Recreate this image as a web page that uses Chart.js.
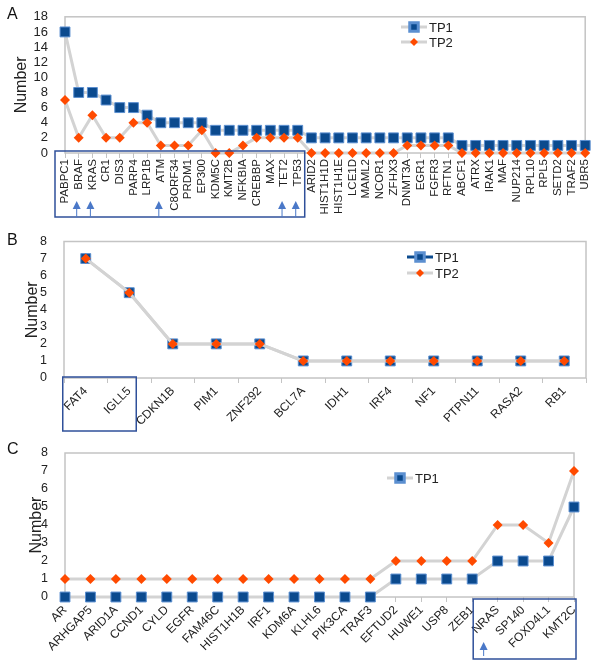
<!DOCTYPE html>
<html lang="en">
<head>
<meta charset="UTF-8">
<title>TP1 / TP2 mutations</title>
<script src="https://cdn.jsdelivr.net/npm/chart.js"></script>
<style>
  body { margin: 0; background: #fff; font-family: "Liberation Sans", Arial, sans-serif; }
  .panel { position: absolute; left: 0; width: 600px; }
  .letter { position: absolute; left: 7px; font-size: 16px; color: #111; }
</style>
</head>
<body>
<div class="panel" style="top:0;height:225px"><canvas id="chartA"></canvas></div>
<div class="panel" style="top:225px;height:210px"><canvas id="chartB"></canvas></div>
<div class="panel" style="top:435px;height:230px"><canvas id="chartC"></canvas></div>
<div class="letter" style="top:5px">A</div>
<div class="letter" style="top:231px">B</div>
<div class="letter" style="top:440px">C</div>
<script>
// panel A
const genesA = ['PABPC1', 'BRAF', 'KRAS', 'CR1', 'DIS3', 'PARP4', 'LRP1B', 'ATM', 'C8ORF34', 'PRDM1',
  'EP300', 'KDM5C', 'KMT2B', 'NFKBIA', 'CREBBP', 'MAX', 'TET2', 'TP53', 'ARID2', 'HIST1H1D',
  'HIST1H1E', 'LCE1D', 'MAML2', 'NCOR1', 'ZFHX3', 'DNMT3A', 'EGR1', 'FGFR3', 'RFTN1', 'ABCF1',
  'ATRX', 'IRAK1', 'MAF', 'NUP214', 'RPL10', 'RPL5', 'SETD2', 'TRAF2', 'UBR5'];
const tp1A = [16, 8, 8, 7, 6, 6, 5, 4, 4, 4, 4, 3, 3, 3, 3, 3, 3, 3, 2, 2,
  2, 2, 2, 2, 2, 2, 2, 2, 2, 1, 1, 1, 1, 1, 1, 1, 1, 1, 1];
const tp2A = [7, 2, 5, 2, 2, 4, 4, 1, 1, 1, 3, 0, 0, 1, 2, 2, 2, 2, 0, 0,
  0, 0, 0, 0, 0, 1, 1, 1, 1, 0, 0, 0, 0, 0, 0, 0, 0, 0, 0];

// panel B
const genesB = ['FAT4', 'IGLL5', 'CDKN1B', 'PIM1', 'ZNF292', 'BCL7A', 'IDH1', 'IRF4', 'NF1', 'PTPN11', 'RASA2', 'RB1'];
const tp1B = [7, 5, 2, 2, 2, 1, 1, 1, 1, 1, 1, 1];
const tp2B = [7, 5, 2, 2, 2, 1, 1, 1, 1, 1, 1, 1];

// panel C
const genesC = ['AR', 'ARHGAP5', 'ARID1A', 'CCND1', 'CYLD', 'EGFR', 'FAM46C', 'HIST1H1B', 'IRF1', 'KDM6A',
  'KLHL6', 'PIK3CA', 'TRAF3', 'EFTUD2', 'HUWE1', 'USP8', 'ZEB1', 'NRAS', 'SP140', 'FOXD4L1', 'KMT2C'];
const tp1C = [0, 0, 0, 0, 0, 0, 0, 0, 0, 0, 0, 0, 0, 1, 1, 1, 1, 2, 2, 2, 5];
const tp2C = [1, 1, 1, 1, 1, 1, 1, 1, 1, 1, 1, 1, 1, 2, 2, 2, 2, 4, 4, 3, 7];

const FONT = '"Liberation Sans", Arial, sans-serif';
const BLUE = '#0b4a8e';
const ORANGE = '#ff4a00';
const GREY = '#d3d3d3';
const FRAME = '#c4c4c4';
const BOXBLUE = '#2f509a';
const ARROW = '#4a78c8';

// grey frame round the plot area
const framePlugin = {
  id: 'frame',
  beforeDatasetsDraw(chart) {
    const a = chart.chartArea, ctx = chart.ctx;
    ctx.save();
    ctx.strokeStyle = FRAME;
    ctx.lineWidth = 1.5;
    ctx.strokeRect(a.left, a.top, a.right - a.left, a.bottom - a.top);
    ctx.restore();
  }
};

// legend drawn inside the plot
const innerLegend = {
  id: 'innerLegend',
  afterDraw(chart, args, opts) {
    if (!opts.items) return;
    const ctx = chart.ctx;
    opts.items.forEach(it => {
      const ds = chart.data.datasets[it.ds];
      ctx.save();
      ctx.strokeStyle = it.line || ds.borderColor;
      ctx.lineWidth = 3;
      ctx.beginPath();
      ctx.moveTo(it.x, it.y);
      ctx.lineTo(it.x + 26, it.y);
      ctx.stroke();
      ctx.fillStyle = ds.pointBackgroundColor;
      ctx.strokeStyle = ds.pointBorderColor;
      Chart.helpers.drawPoint(ctx, {
        pointStyle: ds.pointStyle, radius: ds.pointStyle === 'rect' ? 6 : 4,
        rotation: 0, borderWidth: ds.pointBorderWidth
      }, it.x + 13, it.y);
      ctx.fillStyle = '#222';
      ctx.font = '13px ' + FONT;
      ctx.textBaseline = 'middle';
      ctx.fillText(ds.label, it.x + 28, it.y + 1);
      ctx.restore();
    });
  }
};

// blue box round some gene labels, plus arrows
const labelBox = {
  id: 'labelBox',
  afterDraw(chart, args, o) {
    if (o.from === undefined) return;
    const x = chart.scales.x, ctx = chart.ctx;
    const left = x.getPixelForValue(o.from) + o.padL;
    const right = x.getPixelForValue(o.to) + o.padR;
    ctx.save();
    ctx.strokeStyle = BOXBLUE;
    ctx.lineWidth = 1.5;
    ctx.strokeRect(left, o.top, right - left, o.bottom - o.top);
    ctx.fillStyle = ARROW;
    ctx.strokeStyle = ARROW;
    ctx.lineWidth = 1;
    (o.arrows || []).forEach(i => {
      const ax = x.getPixelForValue(i) + (o.arrowDx || 0);
      ctx.beginPath();
      ctx.moveTo(ax, o.tip);
      ctx.lineTo(ax - 4, o.tip + 8);
      ctx.lineTo(ax + 4, o.tip + 8);
      ctx.closePath();
      ctx.fill();
      ctx.beginPath();
      ctx.moveTo(ax, o.tip + 7);
      ctx.lineTo(ax, o.end);
      ctx.stroke();
    });
    ctx.restore();
  }
};

function makeChart(id, labels, d1, d2, c) {
  return new Chart(document.getElementById(id), {
    type: 'line',
    data: {
      labels: labels,
      datasets: [
        {
          label: 'TP1', data: d1, order: 1,
          borderColor: GREY, borderWidth: 3,
          pointStyle: 'rect', pointRadius: 7,
          pointBackgroundColor: BLUE, pointBorderColor: '#5b8fd0', pointBorderWidth: 1,
          clip: false
        },
        {
          label: 'TP2', data: d2, order: 0,
          borderColor: GREY, borderWidth: 3,
          pointStyle: 'rectRot', pointRadius: 5,
          pointBackgroundColor: ORANGE, pointBorderColor: ORANGE, pointBorderWidth: 0,
          clip: false
        }
      ]
    },
    options: {
      responsive: true,
      maintainAspectRatio: false,
      animation: false,
      layout: { padding: { left: 0, top: c.top, right: c.right, bottom: 0 } },
      plugins: {
        legend: { display: false },
        tooltip: { enabled: false },
        innerLegend: { items: c.legend },
        labelBox: c.box
      },
      scales: {
        x: {
          offset: c.offset,
          grid: { display: true, drawOnChartArea: false, drawTicks: true, tickLength: 5, color: FRAME, offset: c.offset },
          border: { display: false },
          ticks: {
            autoSkip: false, minRotation: c.rot, maxRotation: c.rot, padding: 1,
            color: '#222', font: { family: FONT, size: c.xFont }
          },
          afterFit: s => { s.height = c.xHeight; }
        },
        y: {
          min: 0, max: c.max,
          grid: { display: false },
          border: { display: false },
          ticks: { stepSize: c.step, autoSkip: false, padding: 9, color: '#222', font: { family: FONT, size: c.yFont } },
          title: {
            display: true, text: 'Number', color: '#222',
            font: { family: FONT, size: 16 }, padding: { top: c.titlePad, bottom: 0 }
          },
          afterFit: s => { s.width = c.yWidth; }
        }
      }
    },
    plugins: [framePlugin, innerLegend, labelBox]
  });
}

makeChart('chartA', genesA, tp1A, tp2A, {
  top: 11, right: 11, xHeight: 72, yWidth: 65, max: 18, step: 2, offset: false,
  rot: 90, xFont: 11.5, yFont: 13, titlePad: 12,
  legend: [{ ds: 0, x: 401, y: 27 }, { ds: 1, x: 401, y: 42 }],
  box: { from: 0, to: 17, padL: -10, padR: 7, top: 151, bottom: 217, arrows: [1, 2, 7, 16, 17], arrowDx: -2, tip: 201, end: 217 }
});

makeChart('chartB', genesB, tp1B, tp2B, {
  top: 13, right: 14, xHeight: 57, yWidth: 64, max: 8, step: 1, offset: true,
  rot: 45, xFont: 12, yFont: 12.5, titlePad: 23,
  legend: [{ ds: 0, x: 407, y: 32, line: BLUE }, { ds: 1, x: 407, y: 48 }],
  box: { from: 0, to: 1, padL: -23, padR: 7, top: 152, bottom: 206, arrows: [] }
});

makeChart('chartC', genesC, tp1C, tp2C, {
  top: 18, right: 26, xHeight: 68, yWidth: 65, max: 8, step: 1, offset: false,
  rot: 45, xFont: 12, yFont: 12.5, titlePad: 27,
  legend: [{ ds: 0, x: 387, y: 43 }],
  box: { from: 16, to: 20, padL: 1, padR: 2, top: 164, bottom: 224, arrows: [17], arrowDx: -14, tip: 207, end: 221 }
});
</script>
</body>
</html>
